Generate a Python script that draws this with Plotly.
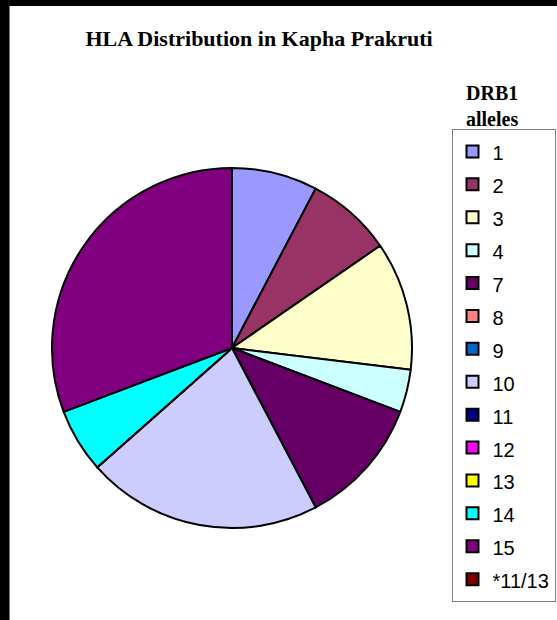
import plotly.graph_objects as go

# DRB1 allele counts in the Kapha Prakruti group (zero-count alleles still listed in legend)
alleles = ['1', '2', '3', '4', '7', '8', '9', '10', '11', '12', '13', '14', '15', '*11/13']
counts = [4, 4, 6, 2, 6, 0, 0, 11, 0, 0, 0, 3, 16, 0]
colors = ['#9999FF', '#993366', '#FFFFCC', '#CCFFFF', '#660066', '#FF8080', '#0066CC',
          '#CCCCFF', '#000080', '#FF00FF', '#FFFF00', '#00FFFF', '#800080', '#800000']

W, H = 557, 620
SERIF = 'Liberation Serif'

fig = go.Figure(go.Pie(
    labels=['<span style="font-size:20px">%s</span>' % a for a in alleles],
    values=counts,
    sort=False,
    direction='clockwise',
    rotation=0,
    marker={'colors': colors, 'line': {'color': 'black', 'width': 2}},
    textinfo='none',
    hoverinfo='label+value+percent',
    domain={'x': [52 / W, 412 / W], 'y': [1 - 528 / H, 1 - 168 / H]},
))

fig.update_layout(
    width=W, height=H,
    margin={'l': 0, 'r': 0, 't': 0, 'b': 0},
    paper_bgcolor='white',
    font={'family': 'Liberation Sans', 'color': 'black'},
    title={'text': '<b>HLA Distribution in Kapha Prakruti</b>',
           'x': 259 / W, 'xanchor': 'center', 'y': 1 - 38 / H, 'yanchor': 'middle',
           'font': {'family': SERIF, 'size': 22, 'color': 'black'}},
    legend={'x': 555.5 / W, 'xanchor': 'right', 'y': 1 - 129 / H, 'yanchor': 'top',
            'bgcolor': 'white', 'bordercolor': '#808080', 'borderwidth': 1,
            'font': {'size': 23, 'family': 'Liberation Sans', 'color': 'black'}},
)

fig.add_annotation(
    text='<b>DRB1</b><br><b>alleles</b>', showarrow=False, align='left',
    xref='paper', yref='paper', x=464 / W, xanchor='left', y=1 - 106 / H, yanchor='middle',
    font={'family': SERIF, 'size': 20, 'color': 'black'},
)

# black frame on the left and top edges, as in the original export
fig.add_shape(type='rect', xref='paper', yref='paper', x0=0, x1=9 / W, y0=0, y1=1,
              fillcolor='black', line={'width': 0}, layer='above')
fig.add_shape(type='rect', xref='paper', yref='paper', x0=0, x1=1, y0=1 - 6 / H, y1=1,
              fillcolor='black', line={'width': 0}, layer='above')
fig.add_shape(type='line', xref='paper', yref='paper', x0=9.5 / W, x1=9.5 / W, y0=0, y1=1 - 6 / H,
              line={'color': '#808080', 'width': 1}, layer='above')

fig.write_html('out.html', config={'displayModeBar': False},
               post_script="document.body.style.margin='0';document.body.style.overflow='hidden';")
